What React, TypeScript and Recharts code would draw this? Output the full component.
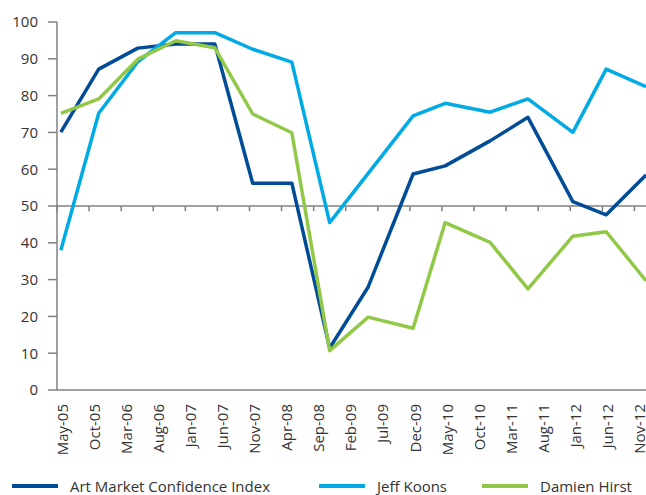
import React from 'react';
import { LineChart, Line, XAxis, YAxis, ReferenceLine, Legend } from 'recharts';

// x = months since May-05
const months = [0.6, 6.5, 12.6, 18.5, 24.6, 30.5, 36.6, 42.5, 48.5, 55.5, 60.5, 67.5, 73.4, 80.4, 85.6, 91.8];
const artMarket = [70.1, 87.2, 92.9, 94.0, 94.0, 56.2, 56.2, 11.4, 28.0, 58.7, 60.9, 67.7, 74.1, 51.2, 47.6, 58.4];
const jeffKoons = [38.0, 75.2, 89.2, 97.1, 97.1, 92.6, 89.1, 45.5, null, 74.5, 77.9, 75.5, 79.1, 70.0, 87.2, 82.4];
const damienHirst = [75.2, 79.1, 89.9, 94.9, 93.0, 75.0, 69.9, 10.7, 19.8, 16.8, 45.5, 40.1, 27.5, 41.8, 43.0, 29.7];

const tickMonths = [0, 5, 10, 15, 20, 25, 30, 35, 40, 45, 50, 55, 60, 65, 70, 75, 80, 85, 90];
const tickLabels = ['May-05', 'Oct-05', 'Mar-06', 'Aug-06', 'Jan-07', 'Jun-07', 'Nov-07', 'Apr-08', 'Sep-08', 'Feb-09', 'Jul-09', 'Dec-09', 'May-10', 'Oct-10', 'Mar-11', 'Aug-11', 'Jan-12', 'Jun-12', 'Nov-12'];
const yTicks = [0, 10, 20, 30, 40, 50, 60, 70, 80, 90, 100];

const seriesNames = ['Art Market Confidence Index', 'Jeff Koons', 'Damien Hirst'];
const seriesKeys = ['art', 'koons', 'hirst'];
const seriesColors = ['#004C97', '#00AAE4', '#92C848'];
const legendLeft = [12, 319, 482];

const data = months.map((m, i) => ({
  month: m,
  art: artMarket[i],
  koons: jeffKoons[i],
  hirst: damienHirst[i],
}));

const FONT = "'Open Sans', sans-serif";
const AXIS = '#808080';
const TEXT = '#333333';

const LegendContent = () => (
  <div style={{ position: 'relative', width: 646, height: 18, fontFamily: FONT, fontSize: 15, lineHeight: '18px', color: TEXT }}>
    {seriesNames.map((name, i) => (
      <div
        key={name}
        style={{ position: 'absolute', left: legendLeft[i], top: 0, height: 18, display: 'flex', alignItems: 'center', whiteSpace: 'nowrap' }}
      >
        <span style={{ display: 'inline-block', width: 46, height: 4, background: seriesColors[i], marginRight: 12 }} />
        <span style={{ lineHeight: '18px' }}>{name}</span>
      </div>
    ))}
  </div>
);

export default function App() {
  return (
    <div style={{ position: 'absolute', left: 0, top: 0, width: 646, height: 495, fontFamily: FONT, background: '#fff' }}>
      <LineChart width={646} height={495} data={data} margin={{ top: 22, right: 0, bottom: 0, left: 0 }}>
        <XAxis
          dataKey="month"
          type="number"
          domain={[0, 91.8]}
          ticks={tickMonths}
          interval={0}
          tickFormatter={(v: number) => tickLabels[tickMonths.indexOf(v)] ?? ''}
          angle={-90}
          textAnchor="end"
          tickLine={false}
          tickSize={0}
          tickMargin={14}
          height={87}
          axisLine={{ stroke: AXIS, strokeWidth: 1.5 }}
          tick={{ fontSize: 15, fill: TEXT, fontFamily: FONT }}
        />
        <YAxis
          type="number"
          domain={[0, 100]}
          ticks={yTicks}
          interval={0}
          width={57}
          tickSize={9}
          tickMargin={10}
          axisLine={{ stroke: AXIS, strokeWidth: 1.5 }}
          tickLine={{ stroke: AXIS, strokeWidth: 1.5 }}
          tick={{ fontSize: 15, fill: TEXT, fontFamily: FONT }}
        />
        <ReferenceLine y={50} stroke={AXIS} strokeWidth={1.5} />
        {tickMonths.map((m) => (
          <ReferenceLine key={m} segment={[{ x: m, y: 50 }, { x: m, y: 48.6 }]} stroke={AXIS} strokeWidth={1.5} />
        ))}
        {seriesKeys.map((k, i) => (
          <Line
            key={k}
            dataKey={k}
            name={seriesNames[i]}
            stroke={seriesColors[i]}
            strokeWidth={3.5}
            strokeLinejoin="round"
            dot={false}
            connectNulls
            isAnimationActive={false}
          />
        ))}
        <Legend
          verticalAlign="bottom"
          content={<LegendContent />}
          wrapperStyle={{ left: 0, top: 477, bottom: 'auto', width: 646, height: 18 }}
        />
      </LineChart>
    </div>
  );
}
